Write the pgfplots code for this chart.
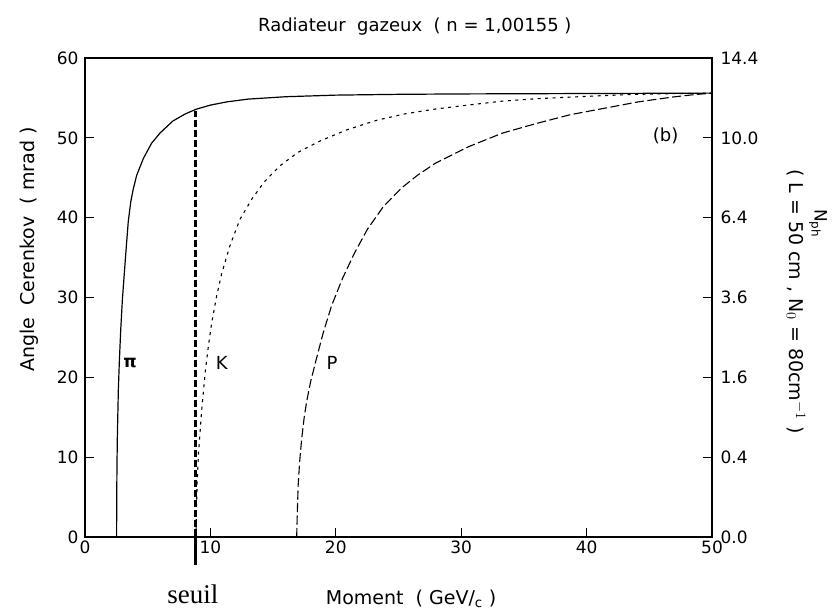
\documentclass[border=0pt]{standalone}
\usepackage{fontspec}
\setmainfont{DejaVu Sans}
\newfontfamily\seuilfont{Liberation Serif}
\usepackage{pgfplots}
\pgfplotsset{compat=1.18}

% momentum (GeV/c) vs Cerenkov angle (mrad)
\pgfplotstableread{
p theta
2.52 0
2.53 5
2.55 9
2.58 12.5
2.62 15.5
2.66 18.5
2.74 22
2.85 26
2.98 29.7
3.11 32.5
3.30 36.5
3.45 39.5
3.65 42
3.85 43.6
4.12 45.3
4.65 47.4
5.30 49.3
5.98 50.6
7.00 52.1
8.00 53.0
8.90 53.6
10.0 54.1
11.3 54.5
13.0 54.85
16.0 55.15
20.0 55.35
25.0 55.45
30.0 55.5
40.0 55.55
50.0 55.6
}\pion
\pgfplotstableread{
p theta
8.85 0
8.88 3
8.95 7
9.05 10.5
9.17 13
9.30 15.8
9.43 18
9.60 20.8
9.83 23.8
10.1 26.8
10.5 30.2
10.9 33
11.56 36.5
12.36 39.8
13.29 42.3
14.3 44.5
15.55 46.5
17.0 48.2
18.74 49.6
20.87 51
23.26 52.2
25.5 53
27.9 53.6
30.5 54.1
33.3 54.6
36.0 54.9
38.7 55.1
41.5 55.3
44.0 55.45
47.6 55.55
50.0 55.6
}\kaon
\pgfplotstableread{
p theta
16.88 0
16.93 3
17.00 6.5
17.12 9.5
17.28 12.3
17.48 15
17.68 17
18.00 19.5
18.40 22
19.00 25.6
19.67 29
20.51 32.3
21.5 35.6
22.54 38.6
23.8 41.4
25.23 43.7
26.5 45.3
27.92 46.8
30.6 48.9
33.3 50.6
36.0 51.8
38.7 52.9
41.4 53.7
44.1 54.5
46.8 55.1
48.5 55.4
50.0 55.6
}\proton

\begin{document}
\begin{tikzpicture}
\useasboundingbox (-85pt,-77pt) rectangle (749pt,537pt);
\begin{axis}[
  scale only axis, width=627pt, height=479pt,
  xmin=0, xmax=50, ymin=0, ymax=60,
  xtick={0,10,...,50}, ytick={0,10,...,60},
  xtick pos=left, ytick pos=left,
  tick align=inside, major tick length=9pt,
  /pgf/number format/assume math mode=true,
  ticklabel style={font=\fontsize{17}{17}\selectfont},
  yticklabel style={xshift=-3pt},
  axis line style={line width=1.2pt},
  every tick/.style={line width=1.1pt, black},
  clip=false,
]
\addplot[black, line width=1.2pt] table[x=p, y=theta] {\pion};
\addplot[black, line width=1.1pt, dash pattern=on 3pt off 4.5pt] table[x=p, y=theta] {\kaon};
\addplot[black, line width=1.1pt, dash pattern=on 9pt off 3.5pt] table[x=p, y=theta] {\proton};
% threshold (seuil)
\addplot[black, line width=2.4pt, dash pattern=on 7pt off 3pt] coordinates {(8.8,0) (8.8,53.3)};
\addplot[black, line width=2.4pt] coordinates {(8.8,1) (8.8,-3.5)};

\node[font=\fontsize{18}{18}\selectfont, yshift=31pt] at (rel axis cs:0.526,1) {Radiateur\ \ gazeux\ \ ( n = 1,00155 )};
\node[font=\fontsize{19}{19}\selectfont, xshift=-56pt, rotate=90] at (axis cs:0,36) {Angle\ \ Cerenkov\ \ ( mrad )};
\node[font=\fontsize{19}{19}\selectfont, yshift=-62pt] at (axis cs:26,0) {Moment\ \ ( GeV/$_{\mathrm{c}}$ )};
\node[font=\fontsize{27}{27}\seuilfont, anchor=base, yshift=-66pt] at (axis cs:8.6,0) {seuil};
\node[font=\fontsize{17}{17}\bfseries] at (axis cs:3.6,21.8) {π};
\node[font=\fontsize{18}{18}\selectfont] at (axis cs:10.9,21.8) {K};
\node[font=\fontsize{18}{18}\selectfont] at (axis cs:19.7,21.8) {P};
\node[font=\fontsize{18}{18}\selectfont] at (axis cs:46.3,50.3) {(b)};
\node[font=\fontsize{19}{19}\selectfont, xshift=84pt, rotate=-90] at (axis cs:50,29.5) {( L = 50 cm , N$_0$ = 80cm$^{-1}$ )};
\node[font=\fontsize{17}{17}\selectfont, xshift=106pt, rotate=-90] at (axis cs:50,39.3) {N$_{\mathrm{ph}}$};
\end{axis}
\begin{axis}[
  scale only axis, width=627pt, height=479pt,
  xmin=0, xmax=50, ymin=0, ymax=60,
  axis x line=none, axis y line*=right,
  ytick={0,10,...,60},
  yticklabels={0.0,0.4,1.6,3.6,6.4,10.0,14.4},
  tick align=inside, major tick length=9pt,
  ticklabel style={font=\fontsize{17}{17}\selectfont},
  yticklabel style={xshift=5pt},
  axis line style={line width=1.2pt},
  every tick/.style={line width=1.1pt, black},
]
\addplot[draw=none] coordinates {(0,0)};
\end{axis}
\end{tikzpicture}
\end{document}
